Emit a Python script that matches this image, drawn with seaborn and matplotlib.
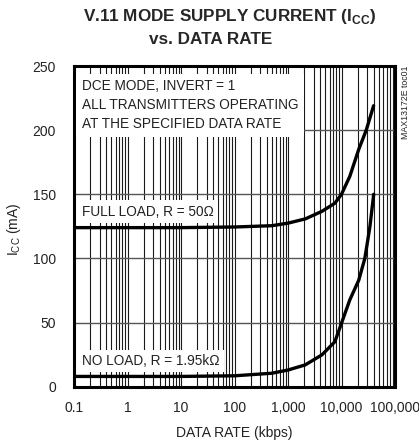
import matplotlib
matplotlib.use("Agg")
import matplotlib.pyplot as plt
import matplotlib.ticker as mticker
import numpy as np
import pandas as pd
import seaborn as sns

# values (ICC in mA vs data rate in kbps)
full_load_rate = [0.1, 1, 10, 100, 500, 1000, 2100, 4300, 7500, 10000, 14300, 21000, 29000, 39800]
full_load_icc = [124, 124, 124, 124.5, 125.5, 127.5, 130.8, 136.7, 143, 150, 164, 185, 200, 219]

no_load_rate = [0.1, 1, 10, 100, 500, 1000, 2100, 4300, 7500, 10000, 14300, 21000, 27300, 33900, 40000]
no_load_icc = [8, 8, 8, 8.5, 10.5, 13, 17, 24.8, 35, 49.5, 67.7, 83, 100, 124.5, 150]

x_ticks = [0.1, 1, 10, 100, 1000, 10000, 100000]
x_tick_labels = ["0.1", "1", "10", "100", "1,000", "10,000", "100,000"]
y_ticks = [0, 50, 100, 150, 200, 250]

sns.set_style("white")
FONT = ["Liberation Sans", "DejaVu Sans"]
plt.rcParams["font.family"] = FONT
plt.rcParams["mathtext.fontset"] = "custom"
plt.rcParams["mathtext.rm"] = "Liberation Sans"
plt.rcParams["mathtext.bf"] = "Liberation Sans:bold"

fig = plt.figure(figsize=(4.19, 4.48), dpi=100)
ax = fig.add_axes([74 / 419, 1 - 386.7 / 448, 321 / 419, 320.7 / 448])

df_full = pd.DataFrame({"rate": full_load_rate, "icc": full_load_icc})
df_none = pd.DataFrame({"rate": no_load_rate, "icc": no_load_icc})
for df in (df_full, df_none):
    sns.lineplot(data=df, x="rate", y="icc", color="black", linewidth=2.4,
                 ax=ax, zorder=5)

ax.set_xscale("log")
ax.set_xlim(0.1, 100000)
ax.set_ylim(0, 250)
ax.set_xticks(x_ticks)
ax.set_xticklabels(x_tick_labels)
ax.xaxis.set_minor_locator(mticker.LogLocator(base=10, subs=np.arange(2, 10)))
ax.xaxis.set_minor_formatter(mticker.NullFormatter())
ax.set_yticks(y_ticks)

ax.grid(True, axis="x", which="both", color="#1a1a1a", linewidth=0.8)
ax.grid(True, axis="y", which="major", color="#555555", linewidth=1.0)
ax.set_axisbelow(True)
ax.tick_params(axis="both", which="both", length=0, labelsize=10, colors="#222222")
ax.tick_params(axis="y", pad=13)
ax.tick_params(axis="x", pad=10)
for s in ax.spines.values():
    s.set_linewidth(2.2)
    s.set_color("black")

ax.set_xlabel("DATA RATE (kbps)", fontsize=10, color="#222222")
ax.set_ylabel(r"I$_{\mathregular{CC}}$ (mA)", fontsize=10, color="#222222")
ax.xaxis.set_label_coords(0.5, -0.124)
ax.yaxis.set_label_coords(-0.16, 0.49)

ax.text(0.025, 0.958, "DCE MODE, INVERT = 1\nALL TRANSMITTERS OPERATING\nAT THE SPECIFIED DATA RATE",
        transform=ax.transAxes, ha="left", va="top", fontsize=9.8, color="#222222",
        linespacing=1.45, bbox=dict(facecolor="white", edgecolor="none", pad=4), zorder=3)
box = dict(facecolor="white", edgecolor="none", pad=3)
ax.text(0.025, 136.5, "FULL LOAD, R = 50Ω", transform=ax.get_yaxis_transform(),
        ha="left", va="center", fontsize=9.8, color="#222222", bbox=box, zorder=3)
ax.text(0.025, 20, "NO LOAD, R = 1.95kΩ", transform=ax.get_yaxis_transform(),
        ha="left", va="center", fontsize=9.8, color="#222222", bbox=box, zorder=3)

fig.text(230 / 419, 1 - 17 / 448, r"V.11 MODE SUPPLY CURRENT (I$_{\mathbf{CC}}$)",
         ha="center", va="center", fontsize=12.3, fontweight="bold")
fig.text(211 / 419, 1 - 40 / 448, "vs. DATA RATE",
         ha="center", va="center", fontsize=12.3, fontweight="bold")
fig.text(405 / 419, 1 - 102 / 448, "MAX13172E toc01", rotation=90,
         ha="center", va="center", fontsize=6.3, color="#222222")

fig.savefig("out.png", dpi=100)
